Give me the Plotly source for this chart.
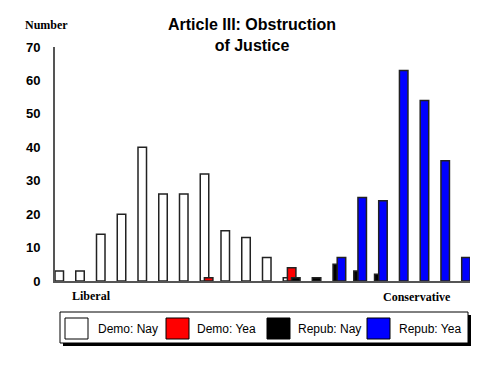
import plotly.graph_objects as go

groups = list(range(1, 21))
demo_nay = [3, 3, 14, 20, 40, 26, 26, 32, 15, 13, 7, 1, 0, 0, 0, 0, 0, 0, 0, 0]
demo_yea = [0, 0, 0, 0, 0, 0, 0, 1, 0, 0, 0, 4, 0, 0, 0, 0, 0, 0, 0, 0]
repub_nay = [0, 0, 0, 0, 0, 0, 0, 0, 0, 0, 0, 1, 1, 5, 3, 2, 0, 0, 0, 0]
repub_yea = [0, 0, 0, 0, 0, 0, 0, 0, 0, 0, 0, 0, 0, 7, 25, 24, 63, 54, 36, 7]
series_names = ["Demo: Nay", "Demo: Yea", "Repub: Nay", "Repub: Yea"]
series_colors = ["#ffffff", "#ff0000", "#000000", "#0000ff"]
y_ticks = [0, 10, 20, 30, 40, 50, 60, 70]

W, H = 500, 375
L, R, T, B = 55, 470, 47, 281

fig = go.Figure()
for k, (name, vals, col) in enumerate(zip(series_names, [demo_nay, demo_yea, repub_nay, repub_yea], series_colors)):
    xs = [g for g, v in zip(groups, vals) if v > 0]
    ys = [v for v in vals if v > 0]
    fig.add_trace(go.Bar(
        x=xs, y=ys, name=name,
        marker=dict(color=col, line=dict(color="#222222", width=1.5)),
        width=0.41, offset=-0.5 + k * 0.2,
        showlegend=False,
    ))

def px(x):
    return (x - L) / (R - L)

def py(y):
    return (B - y) / (B - T)

shapes = []
annotations = []
# legend shadow and box
shapes.append(dict(type="rect", xref="paper", yref="paper", x0=px(63), x1=px(471), y0=py(346), y1=py(315),
                   fillcolor="#000000", line=dict(width=0), layer="above"))
shapes.append(dict(type="rect", xref="paper", yref="paper", x0=px(60), x1=px(468), y0=py(343), y1=py(312),
                   fillcolor="#ffffff", line=dict(color="#000000", width=1), layer="above"))
sw_x = [65, 166, 267, 367]
tx_x = [96, 195, 296, 397]
for name, col, sx, tx in zip(series_names, series_colors, sw_x, tx_x):
    shapes.append(dict(type="rect", xref="paper", yref="paper", x0=px(sx), x1=px(sx + 23), y0=py(339), y1=py(318),
                       fillcolor=col, line=dict(color="#000000", width=1), layer="above"))
    annotations.append(dict(text=name, xref="paper", yref="paper", x=px(tx), y=py(328.5), xanchor="left",
                            yanchor="middle", showarrow=False,
                            font=dict(family="Arial, Liberation Sans", size=12, color="#000000")))

annotations.append(dict(text="<b>Number</b>", xref="paper", yref="paper", x=px(46), y=py(25), xanchor="center",
                        yanchor="middle", showarrow=False,
                        font=dict(family="Liberation Serif, Times New Roman", size=12, color="#000000")))
annotations.append(dict(text="<b>Liberal</b>", xref="paper", yref="paper", x=px(91), y=py(296), xanchor="center",
                        yanchor="middle", showarrow=False,
                        font=dict(family="Liberation Serif, Times New Roman", size=12, color="#000000")))
annotations.append(dict(text="<b>Conservative</b>", xref="paper", yref="paper", x=px(417), y=py(297),
                        xanchor="center", yanchor="middle", showarrow=False,
                        font=dict(family="Liberation Serif, Times New Roman", size=12, color="#000000")))
annotations.append(dict(text="<b>Article III: Obstruction<br>of Justice</b>", xref="paper", yref="paper",
                        x=px(252), y=py(35), xanchor="center", yanchor="middle", showarrow=False,
                        font=dict(family="Arial, Liberation Sans", size=16, color="#000000")))

fig.update_layout(
    width=W, height=H,
    margin=dict(l=L, r=W - R, t=T, b=H - B, pad=0),
    paper_bgcolor="#ffffff", plot_bgcolor="#ffffff",
    barmode="overlay",
    shapes=shapes, annotations=annotations,
    xaxis=dict(range=[0.5, 20.5], showgrid=False, zeroline=False, showticklabels=False,
               showline=True, linecolor="#555555", linewidth=2, ticks=""),
    yaxis=dict(range=[0, 70], tickvals=y_ticks, ticktext=[f"<b>{v}</b>" for v in y_ticks],
               showgrid=False, zeroline=False, showline=True, linecolor="#555555", linewidth=2,
               ticks="", ticklabelstandoff=10,
               tickfont=dict(family="Arial, Liberation Sans", size=13, color="#000000")),
    font=dict(family="Arial, Liberation Sans"),
)

fig.write_html("out.html", config={"displayModeBar": False},
               post_script="document.body.style.margin='0';document.body.style.padding='0';")
